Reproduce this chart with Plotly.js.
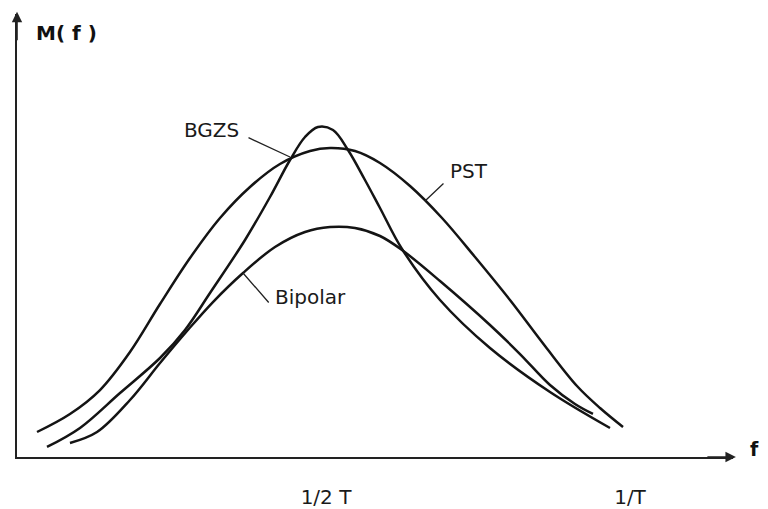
<!DOCTYPE html>
<html>
<head>
<meta charset="utf-8">
<script src="https://cdn.plot.ly/plotly-3.0.1.min.js"></script>
<style>html,body{margin:0;padding:0;background:#fff;}#chart{width:768px;height:509px;}</style>
</head>
<body>
<div id="chart"></div>
<script>
// Frequency in units of 1/T, M(f) in relative units (PST peak = 1)
const freqPST = [0.0247,0.0789,0.1283,0.1776,0.2270,0.2763,0.3257,0.3750,0.4243,0.4737,0.5066,0.5477,0.5888,0.6382,0.6908,0.7451,0.8026,0.8602,0.9128,0.9507,0.9885];
const mPST    = [0.0809,0.1392,0.2168,0.3398,0.4951,0.6440,0.7735,0.8738,0.9482,0.9903,1.0000,0.9903,0.9515,0.8770,0.7735,0.6472,0.5081,0.3592,0.2298,0.1586,0.0971];

const freqBGZS = [0.0411,0.0954,0.1612,0.2270,0.2681,0.3092,0.3668,0.4079,0.4408,0.4655,0.4868,0.5115,0.5362,0.5641,0.5888,0.6250,0.6875,0.7697,0.8684,0.9671];
const mBGZS    = [0.0324,0.0939,0.2071,0.3204,0.4110,0.5307,0.7023,0.8414,0.9612,1.0356,1.0680,1.0583,0.9935,0.8964,0.8058,0.6731,0.5081,0.3528,0.2104,0.0939];

const freqBip = [0.0789,0.1234,0.1776,0.2270,0.2714,0.3141,0.3635,0.4161,0.4655,0.5066,0.5477,0.5888,0.6250,0.6875,0.7697,0.8191,0.8684,0.9095,0.9391];
const mBip    = [0.0453,0.0809,0.1845,0.3042,0.4078,0.5016,0.5955,0.6796,0.7282,0.7443,0.7411,0.7152,0.6699,0.5696,0.4272,0.3333,0.2330,0.1715,0.1392];

const tickVals = [0.5, 1];
const tickText = ['1/2 T', '1/T'];

const ink = '#141414';
const FONT = 'DejaVu Sans, Liberation Sans, sans-serif';
const lineStyle = {color: ink, width: 2.5, shape: 'spline', smoothing: 1};

const traces = [
  {x: freqPST, y: mPST, name: 'PST', mode: 'lines', line: lineStyle, hoverinfo: 'skip'},
  {x: freqBGZS, y: mBGZS, name: 'BGZS', mode: 'lines', line: lineStyle, hoverinfo: 'skip'},
  {x: freqBip, y: mBip, name: 'Bipolar', mode: 'lines', line: lineStyle, hoverinfo: 'skip'}
];

const labelFont = {family: FONT, size: 20, color: '#1a1a1a'};
const leader = {showarrow: true, arrowhead: 0, arrowwidth: 1.3, arrowcolor: '#222', text: '', xref: 'x', yref: 'y'};

const annotations = [
  Object.assign({}, leader, {x: 0.4408, y: 0.9709, ax: -43, ay: -20}),
  {x: 0.3109, y: 1.0583, text: 'BGZS', showarrow: false, font: labelFont},
  Object.assign({}, leader, {x: 0.6628, y: 0.8285, ax: 20, ay: -19}),
  {x: 0.7352, y: 0.9256, text: 'PST', showarrow: false, font: labelFont},
  Object.assign({}, leader, {x: 0.3635, y: 0.5955, ax: 27, ay: 31}),
  {x: 0.4737, y: 0.5178, text: 'Bipolar', showarrow: false, font: labelFont},
  {x: 0.0740, y: 1.3722, text: 'M( f )', showarrow: false, font: {family: FONT, size: 20, color: '#111', weight: 'bold'}},
  {xref: 'paper', yref: 'paper', x: 1.039, y: -0.011, text: 'f', showarrow: false, font: {family: FONT, size: 19, color: '#111', weight: 'bold'}},
  // axis arrowheads
  {xref: 'paper', yref: 'paper', x: 1.004, y: 0, ax: -30, ay: 0, text: '', showarrow: true, arrowhead: 2, arrowsize: 1.3, arrowwidth: 1.6, arrowcolor: '#222'},
  {xref: 'paper', yref: 'paper', x: 0, y: 1.005, ax: 0, ay: 30, text: '', showarrow: true, arrowhead: 2, arrowsize: 1.3, arrowwidth: 1.6, arrowcolor: '#222'}
];

const layout = {
  width: 768, height: 509,
  margin: {l: 17, r: 35, t: 14, b: 52, pad: 0},
  paper_bgcolor: '#fff', plot_bgcolor: '#fff',
  showlegend: false,
  xaxis: {
    range: [-0.00822, 1.16941], showgrid: false, zeroline: false,
    showline: true, linecolor: '#222', linewidth: 1.6,
    tickvals: tickVals, ticktext: tickText, ticks: '',
    ticklabelstandoff: 21,
    tickfont: {family: FONT, size: 20, color: '#1a1a1a'},
    fixedrange: true
  },
  yaxis: {
    range: [0, 1.43366], showgrid: false, zeroline: false,
    showline: true, linecolor: '#222', linewidth: 1.6,
    showticklabels: false, ticks: '', fixedrange: true
  },
  annotations: annotations
};

Plotly.newPlot('chart', traces, layout, {displayModeBar: false, staticPlot: true});
</script>
</body>
</html>
